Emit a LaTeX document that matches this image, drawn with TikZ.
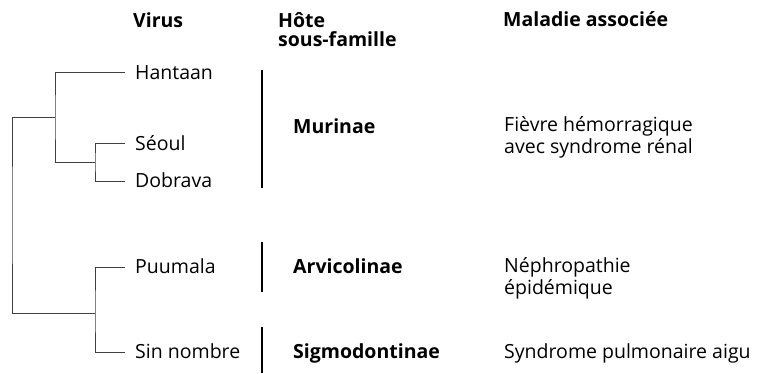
\documentclass[tikz,border=0pt]{standalone}
\usepackage{fontspec}
\setmainfont{Open Sans}
\usetikzlibrary{calc}
\begin{document}
\begin{tikzpicture}[x=1pt,y=-1pt,
  lbl/.style={anchor=base west,inner sep=0pt,font=\fontsize{19.5}{21.5}\selectfont},
  hdr/.style={lbl,font=\fontsize{19.5}{19}\selectfont\bfseries,align=left},
  host/.style={lbl,font=\fontsize{19.5}{21.5}\selectfont\bfseries},
  txt/.style={lbl,align=left},
  tree/.style={draw=black!75,line width=0.9pt},
  bar/.style={draw=black,line width=2pt}]
\useasboundingbox (0,0) rectangle (757,373);
% headers
\node[hdr] (hv) at (133,27) {Virus};
\node[hdr] (hh) at (278,46) {Hôte\\sous-famille};
\node[hdr] (hm) at (503,26) {Maladie associée};
% viruses
\node[lbl] (han) at (135,79) {Hantaan};
\node[lbl] (seo) at (135,150) {Séoul};
\node[lbl] (dob) at (135,187) {Dobrava};
\node[lbl] (puu) at (135,273) {Puumala};
\node[lbl] (sin) at (135,358) {Sin nombre};
% hosts
\node[host] (mur) at (293,133) {Murinae};
\node[host] (arv) at (293,273) {Arvicolinae};
\node[host] (sig) at (293,358) {Sigmodontinae};
% diseases
\node[txt] (fhsr) at (504,153) {Fièvre hémorragique\\avec syndrome rénal};
\node[txt] (ne) at (504,294) {Néphropathie\\épidémique};
\node[txt] (spa) at (504,358) {Syndrome pulmonaire aigu};
% tree tips
\coordinate (hanT) at ($(han.base west)+(-10,-7)$);
\coordinate (seoT) at ($(seo.base west)+(-10,-7)$);
\coordinate (dobT) at ($(dob.base west)+(-10,-6)$);
\coordinate (puuT) at ($(puu.base west)+(-10,-6)$);
\coordinate (sinT) at ($(sin.base west)+(-10,-6)$);
\coordinate (ns) at (95,162);
\coordinate (nh) at (55,117);
\coordinate (np) at (95,313);
\coordinate (root) at (12,215);
\draw[tree] (seoT) -| (ns) |- (dobT);
\draw[tree] (hanT) -| (nh) |- (ns);
\draw[tree] (puuT) -| (np) |- (sinT);
\draw[tree] (nh) -| (root) |- (np);
% bars
\coordinate (b1a) at (262,70); \coordinate (b1b) at (262,188);
\coordinate (b2a) at (262,242); \coordinate (b2b) at (262,292);
\coordinate (b3a) at (262,327); \coordinate (b3b) at (262,373);
\draw[bar] (b1a) -- (b1b);
\draw[bar] (b2a) -- (b2b);
\draw[bar] (b3a) -- (b3b);
\end{tikzpicture}
\end{document}
